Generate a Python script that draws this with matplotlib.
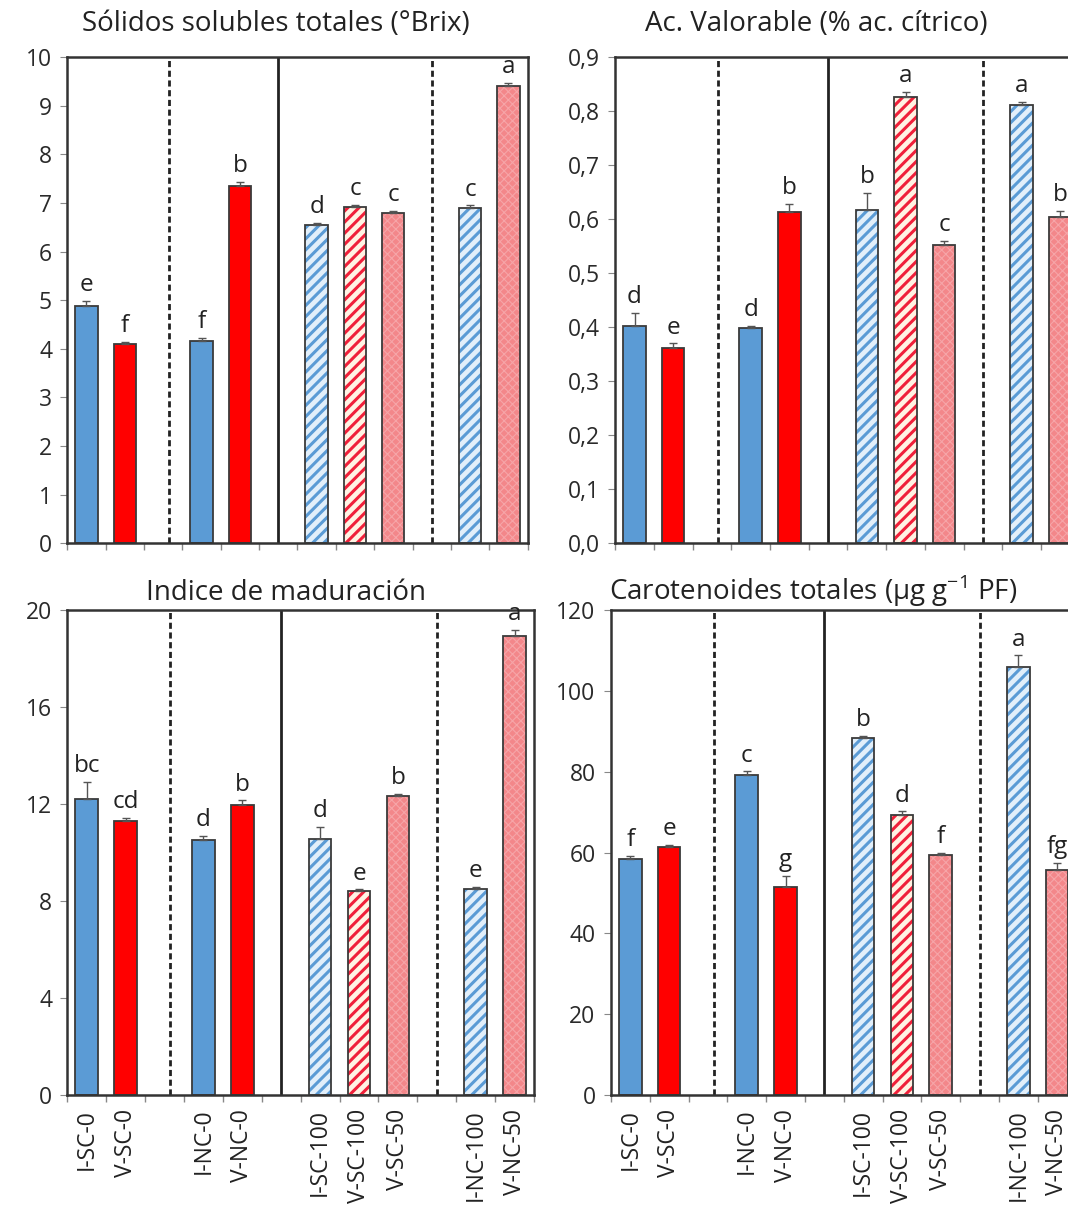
import numpy as np
import matplotlib.pyplot as plt
from matplotlib.ticker import FuncFormatter

plt.rcParams['font.family'] = ['Open Sans', 'DejaVu Sans']
plt.rcParams['hatch.linewidth'] = 2.2

# Tratamientos (posiciones 2, 5 y 9 quedan vacías como separación)
tratamientos = ["I-SC-0", "V-SC-0", "I-NC-0", "V-NC-0", "I-SC-100",
                "V-SC-100", "V-SC-50", "I-NC-100", "V-NC-50"]
posiciones = [0, 1, 3, 4, 6, 7, 8, 10, 11]
estilos = ["azul", "rojo", "azul", "rojo", "azul_rayado",
           "rojo_rayado", "salmon", "azul_rayado", "salmon"]

# Sólidos solubles totales (°Brix)
sst = [4.88, 4.1, 4.17, 7.35, 6.54, 6.91, 6.8, 6.9, 9.4]
sst_err = [0.1, 0.04, 0.05, 0.08, 0.05, 0.05, 0.04, 0.05, 0.08]
sst_letras = ["e", "f", "f", "b", "d", "c", "c", "c", "a"]

# Acidez valorable (% ác. cítrico)
at = [0.402, 0.362, 0.398, 0.614, 0.618, 0.826, 0.553, 0.812, 0.605]
at_err = [0.024, 0.008, 0.005, 0.014, 0.03, 0.01, 0.006, 0.005, 0.01]
at_letras = ["d", "e", "d", "b", "b", "a", "c", "a", "b"]

# Índice de madurez
im = [12.2, 11.3, 10.5, 11.95, 10.57, 8.4, 12.35, 8.5, 18.95]
im_err = [0.7, 0.12, 0.2, 0.2, 0.5, 0.08, 0.06, 0.08, 0.25]
im_letras = ["bc", "cd", "d", "b", "d", "e", "b", "e", "a"]

# Carotenoides totales
car = [58.5, 61.4, 79.3, 51.5, 88.3, 69.4, 59.3, 106.0, 55.6]
car_err = [0.6, 0.6, 0.8, 2.8, 0.6, 0.8, 0.6, 2.8, 1.8]
car_letras = ["f", "e", "c", "g", "b", "d", "f", "a", "fg"]

colores = {
    "azul": dict(face="#5B9BD5", hatch=None, hcol=None),
    "rojo": dict(face="#FF0000", hatch=None, hcol=None),
    "azul_rayado": dict(face="#E2EFFA", hatch="///", hcol="#5B9BD5"),
    "rojo_rayado": dict(face="#FFF3E3", hatch="///", hcol="#F0203A"),
    "salmon": dict(face="#F3878A", hatch="xxxx", hcol="#F6A5A8"),
}

fig = plt.figure(figsize=(10.68, 12.18), dpi=100)


def panel(rect, valores, errores, letras, titulo, xt, tpad, ymax, paso, fmt, etiquetas):
    ax = fig.add_axes(rect)
    for x, v, e, l, est in zip(posiciones, valores, errores, letras, estilos):
        c = colores[est]
        if c["hatch"]:
            b = ax.bar(x, v, width=0.58, color=c["face"], edgecolor=c["hcol"],
                       hatch=c["hatch"], linewidth=0, zorder=2)
            if est == "salmon":
                for p in b:
                    if hasattr(p, "set_hatch_linewidth"):
                        p.set_hatch_linewidth(0.8)
            ax.bar(x, v, width=0.58, color="none", edgecolor="#3a3a3a",
                   linewidth=1.3, zorder=3)
        else:
            ax.bar(x, v, width=0.58, color=c["face"], edgecolor="#3a3a3a",
                   linewidth=1.3, zorder=2)
        ax.errorbar(x, v, yerr=[[0], [e]], fmt="none", ecolor="#555555",
                    elinewidth=1, capsize=3, capthick=1, zorder=4)
        ax.text(x, v + e + ymax * 0.008, l, ha="center", va="bottom",
                fontsize=17.5, color="#222222")

    for xs, ls in [(2.15, (0, (2.2, 1.3))), (5, "-"), (9, (0, (2.2, 1.3)))]:
        ax.axvline(xs, color="#222222", lw=2, ls=ls, zorder=1)

    ax.set_xlim(-0.5, 11.5)
    ax.set_ylim(0, ymax)
    ax.set_yticks(np.arange(0, ymax + paso / 2, paso))
    ax.yaxis.set_major_formatter(FuncFormatter(fmt))
    ax.set_xticks(np.arange(-0.5, 11.6, 1), minor=True)
    ax.tick_params(axis="x", which="minor", length=5, color="#888888", width=1)
    if etiquetas:
        ax.set_xticks(posiciones)
        ax.set_xticklabels(tratamientos, rotation=90, fontsize=16.5,
                           color="#222222")
        ax.tick_params(axis="x", which="major", length=0, pad=10)
    else:
        ax.set_xticks([])
    ax.tick_params(axis="y", length=5, color="#888888", labelsize=16.5,
                   labelcolor="#2a2a2a", pad=6)
    for s in ax.spines.values():
        s.set_color("#333333")
        s.set_linewidth(1.8)
    ax.set_title(titulo, fontsize=20, color="#222222", pad=tpad, x=xt)
    return ax


entero = lambda v, p: f"{v:.0f}"
coma = lambda v, p: f"{v:.1f}".replace(".", ",")

panel([0.063, 0.554, 0.431, 0.399], sst, sst_err, sst_letras,
      "Sólidos solubles totales (°Brix)", 0.454, 19, 10, 1, entero, False)
panel([0.576, 0.554, 0.435, 0.399], at, at_err, at_letras,
      "Ac. Valorable (% ac. cítrico)", 0.434, 19, 0.9, 0.1, coma, False)
panel([0.063, 0.101, 0.437, 0.398], im, im_err, im_letras,
      "Indice de maduración", 0.469, 7, 20, 4, entero, True)
panel([0.572, 0.101, 0.436, 0.398], car, car_err, car_letras,
      r"Carotenoides totales (μg g$^{\mathregular{-1}}$ PF)", 0.434, 7, 120, 20, entero, True)

fig.savefig("out.png", dpi=100)
